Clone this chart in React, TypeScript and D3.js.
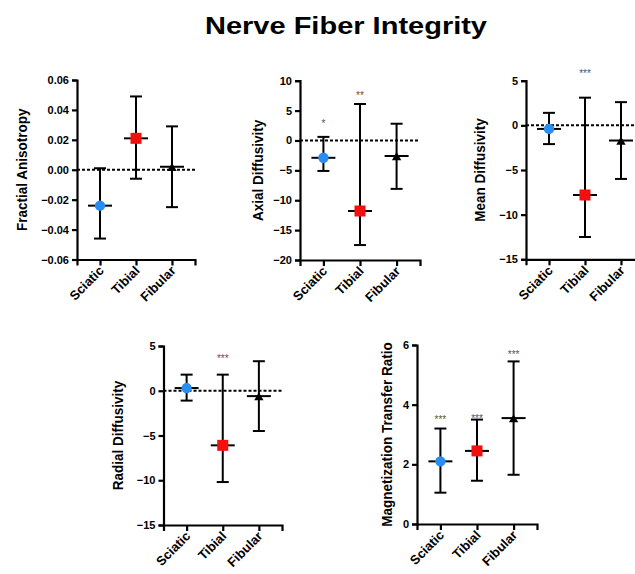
import React, { useEffect, useRef } from "react";
import * as d3 from "d3";

// nerve groups, same for every panel
const categories = ["Sciatic", "Tibial", "Fibular"];

// Fractional anisotropy (change)
const faMean = [-0.024, 0.021, 0.002];
const faUpper = [0.001, 0.049, 0.029];
const faLower = [-0.046, -0.006, -0.025];
const faStars = ["", "", ""];
const faStarLevel = [0, 0, 0];

// Axial diffusivity
const adMean = [-2.9, -11.8, -2.6];
const adUpper = [0.6, 6.1, 2.8];
const adLower = [-5.1, -17.5, -8.1];
const adStars = ["*", "**", ""];
const adStarLevel = [3.1, 7.8, 0];

// Mean diffusivity
const mdMean = [-0.4, -7.8, -1.7];
const mdUpper = [1.4, 3.1, 2.6];
const mdLower = [-2.1, -12.5, -6.0];
const mdStars = ["", "***", ""];
const mdStarLevel = [0, 6.0, 0];

// Radial diffusivity
const rdMean = [0.3, -6.1, -0.6];
const rdUpper = [1.8, 1.8, 3.3];
const rdLower = [-1.1, -10.2, -4.5];
const rdStars = ["", "***", ""];
const rdStarLevel = [0, 3.8, 0];

// Magnetization transfer ratio
const mtrMean = [2.1, 2.45, 3.55];
const mtrUpper = [3.2, 3.5, 5.45];
const mtrLower = [1.05, 1.45, 1.65];
const mtrStars = ["***", "***", "***"];
const mtrStarLevel = [3.56, 3.6, 5.73];

const W = 635;
const H = 574;
const FONT = "Arial, 'Liberation Sans', sans-serif";
const BLUE = "#2a8df2";
const RED = "#f2100f";

type Panel = {
  label: string;
  mean: number[];
  upper: number[];
  lower: number[];
  stars: string[];
  starLevel: number[];
  domain: [number, number];
  ticks: number[];
  fmt: (v: number) => string;
  zeroLine: boolean;
  x0: number;
  x1: number;
  yTop: number;
  yBottom: number;
  labelX: number;
};

const panels: Panel[] = [
  {
    label: "Fractial Anisotropy",
    mean: faMean, upper: faUpper, lower: faLower, stars: faStars, starLevel: faStarLevel,
    domain: [-0.06, 0.06], ticks: d3.range(-0.06, 0.0601, 0.02),
    fmt: d3.format(".2f"), zeroLine: true,
    x0: 77, x1: 195, yTop: 80, yBottom: 259.5, labelX: 22,
  },
  {
    label: "Axial Diffusivity",
    mean: adMean, upper: adUpper, lower: adLower, stars: adStars, starLevel: adStarLevel,
    domain: [-20, 10], ticks: d3.range(-20, 11, 5),
    fmt: d3.format("d"), zeroLine: true,
    x0: 300, x1: 420, yTop: 80.7, yBottom: 260, labelX: 258,
  },
  {
    label: "Mean Diffusivity",
    mean: mdMean, upper: mdUpper, lower: mdLower, stars: mdStars, starLevel: mdStarLevel,
    domain: [-15, 5], ticks: d3.range(-15, 6, 5),
    fmt: d3.format("d"), zeroLine: true,
    x0: 526, x1: 644, yTop: 80.7, yBottom: 259.3, labelX: 480,
  },
  {
    label: "Radial Diffusivity",
    mean: rdMean, upper: rdUpper, lower: rdLower, stars: rdStars, starLevel: rdStarLevel,
    domain: [-15, 5], ticks: d3.range(-15, 6, 5),
    fmt: d3.format("d"), zeroLine: true,
    x0: 163.5, x1: 282, yTop: 346, yBottom: 525, labelX: 118,
  },
  {
    label: "Magnetization Transfer Ratio",
    mean: mtrMean, upper: mtrUpper, lower: mtrLower, stars: mtrStars, starLevel: mtrStarLevel,
    domain: [0, 6], ticks: d3.range(0, 7, 2),
    fmt: d3.format("d"), zeroLine: false,
    x0: 417, x1: 537, yTop: 345, yBottom: 524, labelX: 387,
  },
];

function drawPanel(svg: any, p: Panel) {
  const x = d3.scalePoint<string>().domain(categories).range([p.x0, p.x1]).padding(0.64);
  const y = d3.scaleLinear().domain(p.domain).range([p.yBottom, p.yTop]);
  const g = svg.append("g");

  // y axis
  const yAxis = g.append("g")
    .attr("transform", `translate(${p.x0},0)`)
    .call(d3.axisLeft(y).tickValues(p.ticks).tickFormat(p.fmt as any).tickSizeOuter(0).tickSize(5).tickPadding(3));
  yAxis.select(".domain").attr("stroke", "#000").attr("stroke-width", 2.2);
  yAxis.selectAll(".tick line").attr("stroke", "#000").attr("stroke-width", 2.2);
  yAxis.selectAll(".tick text")
    .attr("fill", "#000")
    .style("font-family", FONT)
    .style("font-size", "11px")
    .style("font-weight", "bold");

  // x axis
  const xAxis = g.append("g")
    .attr("transform", `translate(0,${p.yBottom})`)
    .call(d3.axisBottom(x).tickSizeOuter(0).tickSize(6));
  xAxis.select(".domain").attr("stroke", "#000").attr("stroke-width", 2.2);
  xAxis.selectAll(".tick line").attr("stroke", "#000").attr("stroke-width", 2.2);
  xAxis.selectAll(".tick text")
    .attr("fill", "#000")
    .attr("y", 0)
    .attr("dy", 0)
    .attr("text-anchor", "end")
    .attr("transform", "translate(4,12) rotate(-45)")
    .style("font-family", FONT)
    .style("font-size", "13px")
    .style("font-weight", "bold");

  // y label
  g.append("text")
    .attr("transform", `translate(${p.labelX},${(p.yTop + p.yBottom) / 2}) scale(1.15,1) rotate(-90)`)
    .attr("text-anchor", "middle")
    .attr("dy", "0.35em")
    .style("font-family", FONT)
    .style("font-size", "13.5px")
    .style("font-weight", "bold")
    .text(p.label);

  // zero line
  if (p.zeroLine) {
    g.append("line")
      .attr("x1", p.x0).attr("x2", p.x1)
      .attr("y1", y(0)).attr("y2", y(0))
      .attr("stroke", "#000").attr("stroke-width", 2)
      .attr("stroke-dasharray", "3,2");
  }

  categories.forEach((c, i) => {
    const cx = x(c) as number;
    const eb = g.append("g").attr("stroke", "#000").attr("stroke-width", 2);
    eb.append("line").attr("x1", cx).attr("x2", cx).attr("y1", y(p.upper[i])).attr("y2", y(p.lower[i]));
    eb.append("line").attr("x1", cx - 6).attr("x2", cx + 6).attr("y1", y(p.upper[i])).attr("y2", y(p.upper[i]));
    eb.append("line").attr("x1", cx - 6).attr("x2", cx + 6).attr("y1", y(p.lower[i])).attr("y2", y(p.lower[i]));
    eb.append("line").attr("x1", cx - 12).attr("x2", cx + 12).attr("y1", y(p.mean[i])).attr("y2", y(p.mean[i]));

    const my = y(p.mean[i]);
    if (i === 0) {
      g.append("circle").attr("cx", cx).attr("cy", my).attr("r", 5.2).attr("fill", BLUE);
    } else if (i === 1) {
      g.append("rect").attr("x", cx - 5.5).attr("y", my - 5.5).attr("width", 11).attr("height", 11).attr("fill", RED);
    } else {
      g.append("path")
        .attr("d", d3.symbol().type(d3.symbolTriangle).size(38)())
        .attr("transform", `translate(${cx},${my + 1.5})`)
        .attr("fill", "#000");
    }

    if (p.stars[i]) {
      g.append("text")
        .attr("x", cx)
        .attr("y", y(p.starLevel[i]) + 5)
        .attr("text-anchor", "middle")
        .attr("fill", "#555")
        .style("font-family", FONT)
        .style("font-size", "10px")
        .text(p.stars[i]);
    }
  });
}

export default function App() {
  const ref = useRef<SVGSVGElement>(null);

  useEffect(() => {
    const svg = d3.select(ref.current);
    svg.selectAll("*").remove();

    svg.append("rect").attr("width", W).attr("height", H).attr("fill", "#fff");

    svg.append("text")
      .attr("x", 346)
      .attr("y", 34)
      .attr("text-anchor", "middle")
      .attr("textLength", 282)
      .attr("lengthAdjust", "spacingAndGlyphs")
      .style("font-family", FONT)
      .style("font-size", "24.5px")
      .style("font-weight", "bold")
      .text("Nerve Fiber Integrity");

    panels.forEach(p => drawPanel(svg, p));
  }, []);

  return (
    <svg
      ref={ref}
      width={W}
      height={H}
      style={{ position: "absolute", left: 0, top: 0, background: "#fff" }}
    />
  );
}
